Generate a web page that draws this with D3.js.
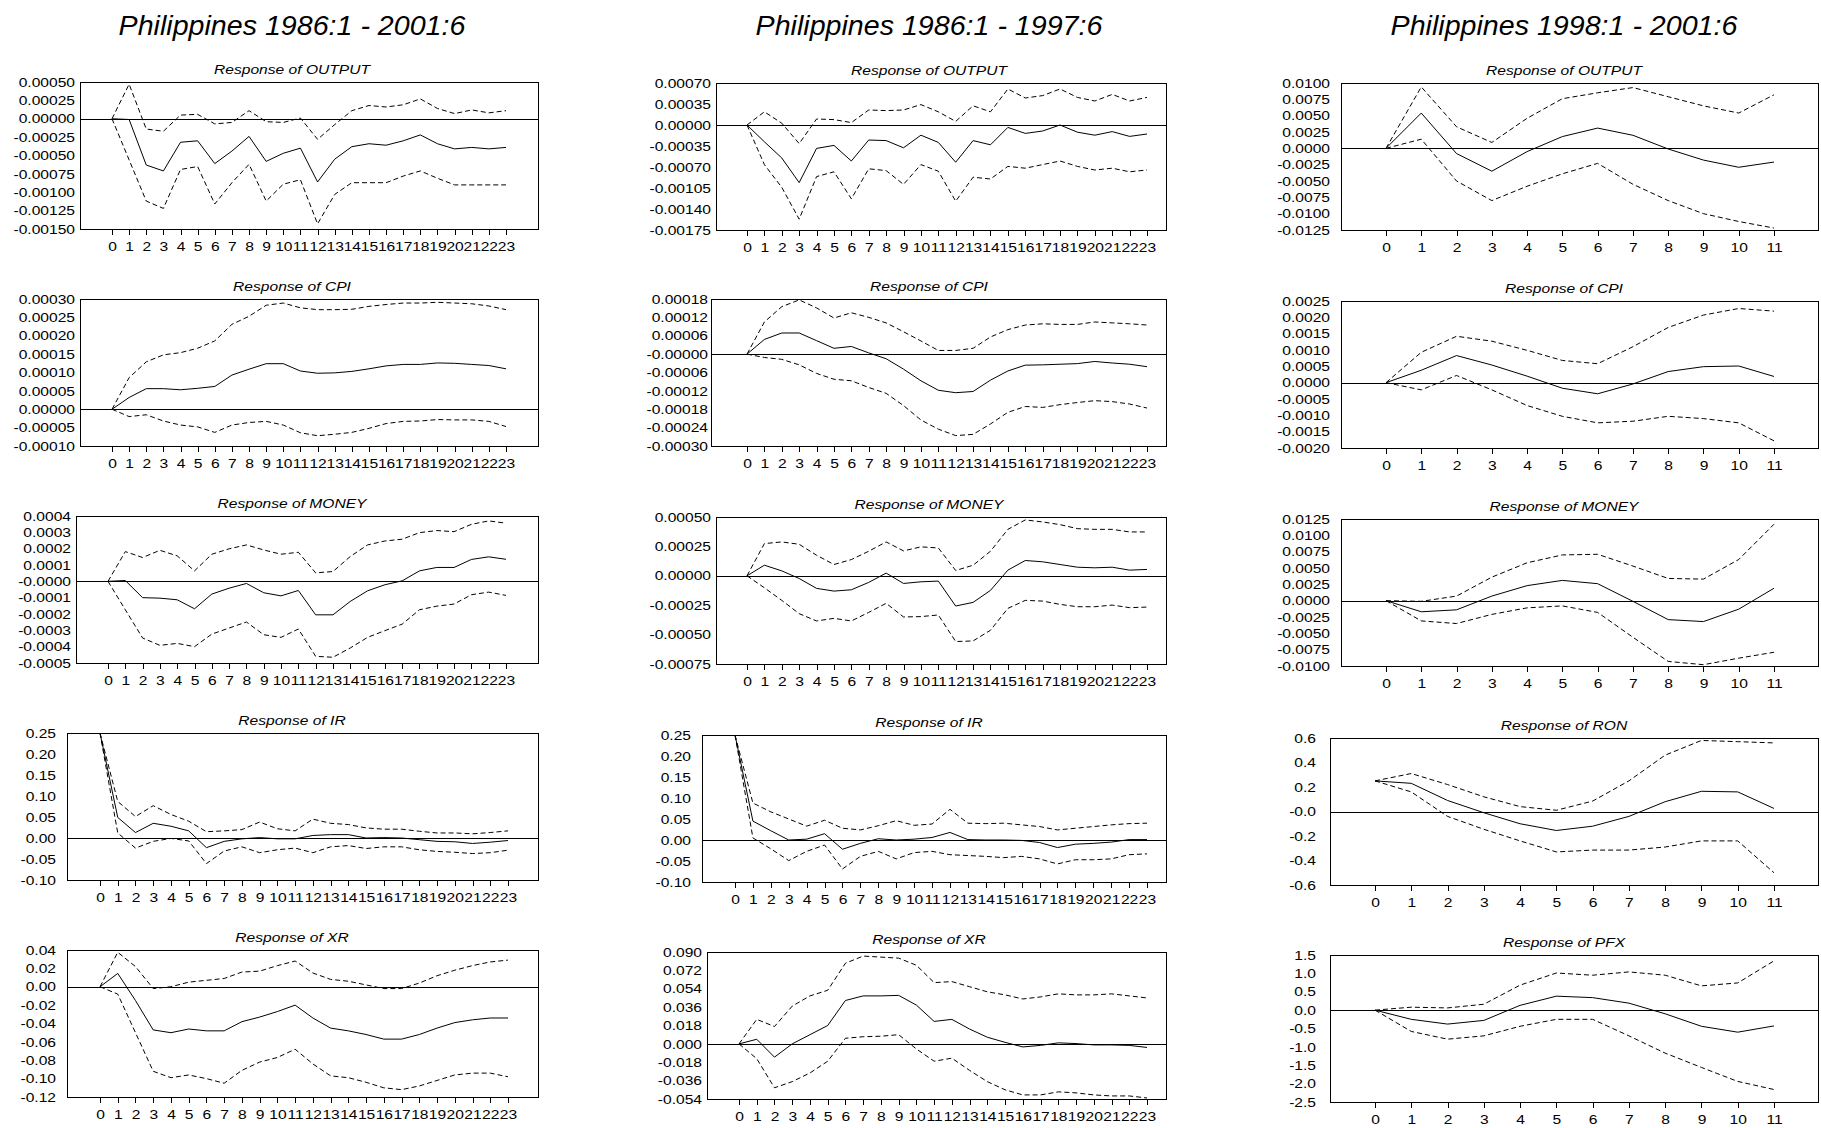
<!DOCTYPE html>
<html>
<head>
<meta charset="utf-8">
<script src="https://cdn.jsdelivr.net/npm/d3@7"></script>
<style>
body { margin: 0; background: #fff; }
text { font-family: "Liberation Sans", Arial, sans-serif; fill: #000; }
</style>
</head>
<body>
<svg id="chart" width="1821" height="1128"></svg>
<script>
// column titles and variable names
var columnTitles = ["Philippines 1986:1 - 2001:6", "Philippines 1986:1 - 1997:6", "Philippines 1998:1 - 2001:6"];
var varsFull = ["OUTPUT", "CPI", "MONEY", "IR", "XR"];
var varsPost = ["OUTPUT", "CPI", "MONEY", "RON", "PFX"];

// ---- 1986:1 - 2001:6 (periods 0..23)
var full_output_irf = [0, -0.00001, -0.00063, -0.00071, -0.00032, -0.00030, -0.00061, -0.00044, -0.00024, -0.00058, -0.00047, -0.00040, -0.00086, -0.00055, -0.00038, -0.00034, -0.00036, -0.00030, -0.00022, -0.00034, -0.00041, -0.00039, -0.00041, -0.00039];
var full_output_hi = [0, 0.00047, -0.00014, -0.00017, 0.00005, 0.00006, -0.00007, -0.00005, 0.00011, -0.00004, -0.00005, 0.00001, -0.00028, -0.00008, 0.00011, 0.00018, 0.00016, 0.00019, 0.00027, 0.00014, 0.00007, 0.00012, 0.00008, 0.00011];
var full_output_lo = [0, -0.00056, -0.00112, -0.00122, -0.00069, -0.00065, -0.00116, -0.00087, -0.00062, -0.00112, -0.00089, -0.00083, -0.00143, -0.00103, -0.00087, -0.00087, -0.00087, -0.00078, -0.00071, -0.00081, -0.00090, -0.00090, -0.00090, -0.00090];

var full_cpi_irf = [0, 0.000032, 0.000056, 0.000056, 0.000053, 0.000057, 0.000062, 0.000093, 0.000109, 0.000124, 0.000124, 0.000104, 0.000098, 0.000099, 0.000103, 0.000110, 0.000118, 0.000122, 0.000122, 0.000126, 0.000125, 0.000122, 0.000119, 0.000110];
var full_cpi_hi = [0, 0.000086, 0.000129, 0.000148, 0.000154, 0.000166, 0.000186, 0.000231, 0.000253, 0.000283, 0.000289, 0.000276, 0.000271, 0.000271, 0.000272, 0.000280, 0.000285, 0.000289, 0.000289, 0.000291, 0.000289, 0.000287, 0.000281, 0.000271];
var full_cpi_lo = [0, -0.000020, -0.000015, -0.000032, -0.000043, -0.000048, -0.000063, -0.000043, -0.000036, -0.000033, -0.000043, -0.000064, -0.000072, -0.000068, -0.000063, -0.000052, -0.000039, -0.000033, -0.000032, -0.000028, -0.000029, -0.000029, -0.000033, -0.000047];

var full_money_irf = [0, 0.000005, -0.000100, -0.000103, -0.000113, -0.000168, -0.000078, -0.000042, -0.000013, -0.000070, -0.000089, -0.000056, -0.000205, -0.000205, -0.000123, -0.000058, -0.000021, 0.000003, 0.000064, 0.000085, 0.000085, 0.000134, 0.000150, 0.000135];
var full_money_hi = [0, 0.000182, 0.000146, 0.000190, 0.000156, 0.000064, 0.000166, 0.000199, 0.000223, 0.000192, 0.000166, 0.000178, 0.000052, 0.000060, 0.000152, 0.000223, 0.000247, 0.000258, 0.000298, 0.000311, 0.000304, 0.000349, 0.000370, 0.000356];
var full_money_lo = [0, -0.000174, -0.000347, -0.000392, -0.000380, -0.000400, -0.000323, -0.000286, -0.000249, -0.000327, -0.000343, -0.000292, -0.000459, -0.000465, -0.000408, -0.000343, -0.000302, -0.000262, -0.000174, -0.000152, -0.000139, -0.000082, -0.000066, -0.000086];

var full_ir_irf = [0.25, 0.049, 0.013, 0.035, 0.028, 0.017, -0.023, -0.008, -0.002, 0.001, -0.002, -0.002, 0.006, 0.008, 0.008, 0.000, 0.001, 0.000, -0.004, -0.008, -0.009, -0.013, -0.010, -0.006];
var full_ir_hi = [0.25, 0.087, 0.051, 0.077, 0.056, 0.040, 0.015, 0.017, 0.020, 0.038, 0.022, 0.017, 0.045, 0.035, 0.032, 0.024, 0.021, 0.021, 0.016, 0.012, 0.012, 0.010, 0.013, 0.017];
var full_ir_lo = [0.25, 0.012, -0.024, -0.008, -0.001, -0.007, -0.061, -0.031, -0.021, -0.035, -0.028, -0.024, -0.035, -0.021, -0.018, -0.025, -0.021, -0.021, -0.028, -0.032, -0.034, -0.037, -0.035, -0.029];

var full_xr_irf = [0, 0.0145, -0.015, -0.047, -0.050, -0.046, -0.048, -0.048, -0.038, -0.033, -0.027, -0.020, -0.034, -0.045, -0.048, -0.052, -0.057, -0.057, -0.052, -0.045, -0.039, -0.036, -0.034, -0.034];
var full_xr_hi = [0, 0.0375, 0.022, -0.002, 0.000, 0.005, 0.007, 0.009, 0.016, 0.017, 0.023, 0.028, 0.015, 0.008, 0.006, 0.002, -0.002, -0.002, 0.004, 0.012, 0.018, 0.023, 0.027, 0.029];
var full_xr_lo = [0, -0.008, -0.050, -0.092, -0.099, -0.096, -0.100, -0.105, -0.091, -0.082, -0.077, -0.068, -0.084, -0.097, -0.099, -0.104, -0.110, -0.112, -0.108, -0.102, -0.096, -0.094, -0.094, -0.098];

// ---- 1986:1 - 1997:6 (periods 0..23)
var pre_output_irf = [0, -0.00028, -0.00055, -0.00096, -0.00039, -0.00034, -0.00060, -0.00025, -0.00026, -0.00038, -0.00017, -0.00029, -0.00062, -0.00026, -0.00033, -0.00004, -0.00014, -0.00010, 0.00000, -0.00012, -0.00017, -0.00011, -0.00019, -0.00015];
var pre_output_hi = [0, 0.00022, 0.00003, -0.00031, 0.00010, 0.00009, 0.00004, 0.00025, 0.00024, 0.00025, 0.00034, 0.00022, 0.00006, 0.00032, 0.00022, 0.00060, 0.00045, 0.00049, 0.00060, 0.00046, 0.00040, 0.00051, 0.00040, 0.00046];
var pre_output_lo = [0, -0.00066, -0.00104, -0.00157, -0.00086, -0.00078, -0.00123, -0.00073, -0.00076, -0.00099, -0.00066, -0.00077, -0.00127, -0.00087, -0.00090, -0.00069, -0.00072, -0.00066, -0.00060, -0.00069, -0.00075, -0.00072, -0.00078, -0.00075];

var pre_cpi_irf = [0, 0.000048, 0.000069, 0.000069, 0.000044, 0.000019, 0.000025, 0.000004, -0.000015, -0.000049, -0.000087, -0.000118, -0.000126, -0.000122, -0.000085, -0.000055, -0.000036, -0.000035, -0.000033, -0.000031, -0.000024, -0.000029, -0.000033, -0.000041];
var pre_cpi_hi = [0, 0.000105, 0.000155, 0.000177, 0.000151, 0.000118, 0.000135, 0.000120, 0.000102, 0.000073, 0.000043, 0.000012, 0.000012, 0.000019, 0.000056, 0.000080, 0.000095, 0.000099, 0.000097, 0.000097, 0.000105, 0.000102, 0.000099, 0.000095];
var pre_cpi_lo = [0, -0.000011, -0.000017, -0.000035, -0.000063, -0.000082, -0.000087, -0.000109, -0.000128, -0.000168, -0.000215, -0.000245, -0.000266, -0.000262, -0.000228, -0.000190, -0.000171, -0.000174, -0.000165, -0.000158, -0.000152, -0.000155, -0.000163, -0.000176];

var pre_money_irf = [0, 0.000090, 0.000042, -0.000023, -0.000107, -0.000130, -0.000119, -0.000056, 0.000023, -0.000065, -0.000051, -0.000045, -0.000257, -0.000226, -0.000124, 0.000048, 0.000130, 0.000119, 0.000096, 0.000073, 0.000068, 0.000073, 0.000048, 0.000054];
var pre_money_hi = [0, 0.000274, 0.000288, 0.000268, 0.000175, 0.000096, 0.000138, 0.000209, 0.000288, 0.000212, 0.000246, 0.000237, 0.000045, 0.000090, 0.000209, 0.000395, 0.000475, 0.000458, 0.000435, 0.000401, 0.000395, 0.000395, 0.000373, 0.000373];
var pre_money_lo = [0, -0.000102, -0.000209, -0.000322, -0.000384, -0.000362, -0.000384, -0.000311, -0.000234, -0.000350, -0.000347, -0.000333, -0.000559, -0.000554, -0.000463, -0.000277, -0.000209, -0.000215, -0.000243, -0.000263, -0.000263, -0.000249, -0.000271, -0.000266];

var pre_ir_irf = [0.25, 0.045, 0.022, 0.000, 0.002, 0.015, -0.022, -0.008, 0.003, 0.000, 0.002, 0.006, 0.018, 0.001, 0.000, 0.000, -0.001, -0.006, -0.018, -0.010, -0.008, -0.005, 0.001, 0.001];
var pre_ir_hi = [0.25, 0.088, 0.067, 0.050, 0.033, 0.047, 0.028, 0.024, 0.034, 0.046, 0.035, 0.038, 0.073, 0.040, 0.039, 0.040, 0.036, 0.032, 0.024, 0.028, 0.032, 0.036, 0.039, 0.040];
var pre_ir_lo = [0.25, 0.005, -0.021, -0.049, -0.027, -0.012, -0.069, -0.039, -0.027, -0.045, -0.030, -0.027, -0.035, -0.037, -0.039, -0.042, -0.039, -0.045, -0.057, -0.047, -0.047, -0.045, -0.035, -0.033];

var pre_xr_irf = [0, 0.0045, -0.013, 0.000, 0.009, 0.018, 0.0425, 0.047, 0.047, 0.0475, 0.038, 0.022, 0.024, 0.0145, 0.0065, 0.0015, -0.003, -0.0015, 0.001, 0.0003, -0.001, -0.001, -0.0015, -0.0035];
var pre_xr_hi = [0, 0.024, 0.017, 0.037, 0.047, 0.0525, 0.079, 0.086, 0.085, 0.084, 0.077, 0.060, 0.061, 0.056, 0.051, 0.048, 0.044, 0.046, 0.049, 0.048, 0.048, 0.049, 0.047, 0.045];
var pre_xr_lo = [0, -0.0145, -0.043, -0.037, -0.0285, -0.017, 0.0055, 0.007, 0.0075, 0.009, -0.005, -0.017, -0.014, -0.026, -0.037, -0.045, -0.050, -0.050, -0.047, -0.048, -0.050, -0.051, -0.051, -0.053];

// ---- 1998:1 - 2001:6 (periods 0..11)
var post_output_irf = [0, 0.0054, -0.0008, -0.0035, -0.0005, 0.0018, 0.0031, 0.0020, -0.0001, -0.0018, -0.0029, -0.0021];
var post_output_hi = [0, 0.0094, 0.0033, 0.0009, 0.0046, 0.0076, 0.0085, 0.0093, 0.0079, 0.0065, 0.0054, 0.0082];
var post_output_lo = [0, 0.0014, -0.0050, -0.0080, -0.0058, -0.0039, -0.0023, -0.0055, -0.0080, -0.0100, -0.0112, -0.0122];

var post_cpi_irf = [0, 0.00038, 0.00083, 0.00054, 0.00020, -0.00017, -0.00034, -0.00004, 0.00034, 0.00049, 0.00051, 0.00019];
var post_cpi_hi = [0, 0.00093, 0.00142, 0.00127, 0.00099, 0.00068, 0.00058, 0.00110, 0.00169, 0.00207, 0.00227, 0.00219];
var post_cpi_lo = [0, -0.00022, 0.00022, -0.00022, -0.00070, -0.00103, -0.00123, -0.00118, -0.00103, -0.00110, -0.00123, -0.00178];

var post_money_irf = [0, -0.0017, -0.0014, 0.0007, 0.0023, 0.0031, 0.0026, -0.0001, -0.0029, -0.0032, -0.0013, 0.0019];
var post_money_hi = [0, -0.0001, 0.0007, 0.0036, 0.0058, 0.0070, 0.0071, 0.0053, 0.0034, 0.0033, 0.0063, 0.0117];
var post_money_lo = [0, -0.0031, -0.0035, -0.0021, -0.0011, -0.0008, -0.0018, -0.0056, -0.0093, -0.0098, -0.0088, -0.0079];

var post_ron_irf = [0.25, 0.23, 0.09, -0.01, -0.10, -0.155, -0.12, -0.04, 0.08, 0.165, 0.16, 0.025];
var post_ron_hi = [0.25, 0.31, 0.22, 0.12, 0.04, 0.01, 0.085, 0.25, 0.46, 0.58, 0.57, 0.56];
var post_ron_lo = [0.25, 0.16, -0.04, -0.145, -0.24, -0.33, -0.315, -0.315, -0.29, -0.24, -0.24, -0.50];

var post_pfx_irf = [0, -0.25, -0.38, -0.28, 0.13, 0.38, 0.34, 0.19, -0.10, -0.44, -0.60, -0.43];
var post_pfx_hi = [0, 0.08, 0.06, 0.16, 0.68, 1.01, 0.95, 1.04, 0.95, 0.66, 0.74, 1.34];
var post_pfx_lo = [0, -0.58, -0.79, -0.70, -0.44, -0.25, -0.25, -0.70, -1.17, -1.56, -1.94, -2.16];

// y tick labels, top to bottom
var full_ticks = [
  ["0.00050", "0.00025", "0.00000", "-0.00025", "-0.00050", "-0.00075", "-0.00100", "-0.00125", "-0.00150"],
  ["0.00030", "0.00025", "0.00020", "0.00015", "0.00010", "0.00005", "0.00000", "-0.00005", "-0.00010"],
  ["0.0004", "0.0003", "0.0002", "0.0001", "-0.0000", "-0.0001", "-0.0002", "-0.0003", "-0.0004", "-0.0005"],
  ["0.25", "0.20", "0.15", "0.10", "0.05", "0.00", "-0.05", "-0.10"],
  ["0.04", "0.02", "0.00", "-0.02", "-0.04", "-0.06", "-0.08", "-0.10", "-0.12"]
];
var pre_ticks = [
  ["0.00070", "0.00035", "0.00000", "-0.00035", "-0.00070", "-0.00105", "-0.00140", "-0.00175"],
  ["0.00018", "0.00012", "0.00006", "-0.00000", "-0.00006", "-0.00012", "-0.00018", "-0.00024", "-0.00030"],
  ["0.00050", "0.00025", "0.00000", "-0.00025", "-0.00050", "-0.00075"],
  ["0.25", "0.20", "0.15", "0.10", "0.05", "0.00", "-0.05", "-0.10"],
  ["0.090", "0.072", "0.054", "0.036", "0.018", "0.000", "-0.018", "-0.036", "-0.054"]
];
var post_ticks = [
  ["0.0100", "0.0075", "0.0050", "0.0025", "0.0000", "-0.0025", "-0.0050", "-0.0075", "-0.0100", "-0.0125"],
  ["0.0025", "0.0020", "0.0015", "0.0010", "0.0005", "0.0000", "-0.0005", "-0.0010", "-0.0015", "-0.0020"],
  ["0.0125", "0.0100", "0.0075", "0.0050", "0.0025", "0.0000", "-0.0025", "-0.0050", "-0.0075", "-0.0100"],
  ["0.6", "0.4", "0.2", "-0.0", "-0.2", "-0.4", "-0.6"],
  ["1.5", "1.0", "0.5", "0.0", "-0.5", "-1.0", "-1.5", "-2.0", "-2.5"]
];

// page layout (pixels)
var plotH = 147;
var textStretch = 1.2;
var columns = [
  { titleX: 292, right: 538, tops: [82, 299, 516, 733, 950],
    left: [80, 80, 76, 67, 67], lab: [75, 75, 71, 56, 56],
    x0: [112, 112, 108, 100, 100], xN: [506, 506, 506, 508, 508] },
  { titleX: 929, right: 1166, tops: [83, 299, 517, 735, 952],
    left: [716, 711, 716, 702, 707], lab: [711, 708, 711, 691, 702],
    x0: [747, 747, 747, 735, 739], xN: [1147, 1147, 1147, 1147, 1147] },
  { titleX: 1564, right: 1818, tops: [83, 301, 519, 738, 955],
    left: [1341, 1341, 1341, 1330, 1330], lab: [1330, 1330, 1330, 1316, 1316],
    x0: [1386, 1386, 1386, 1375, 1375], xN: [1774, 1774, 1774, 1774, 1774] }
];

// build the panel table from the named arrays
var series = [
  [[full_output_irf, full_output_hi, full_output_lo], [full_cpi_irf, full_cpi_hi, full_cpi_lo],
   [full_money_irf, full_money_hi, full_money_lo], [full_ir_irf, full_ir_hi, full_ir_lo],
   [full_xr_irf, full_xr_hi, full_xr_lo]],
  [[pre_output_irf, pre_output_hi, pre_output_lo], [pre_cpi_irf, pre_cpi_hi, pre_cpi_lo],
   [pre_money_irf, pre_money_hi, pre_money_lo], [pre_ir_irf, pre_ir_hi, pre_ir_lo],
   [pre_xr_irf, pre_xr_hi, pre_xr_lo]],
  [[post_output_irf, post_output_hi, post_output_lo], [post_cpi_irf, post_cpi_hi, post_cpi_lo],
   [post_money_irf, post_money_hi, post_money_lo], [post_ron_irf, post_ron_hi, post_ron_lo],
   [post_pfx_irf, post_pfx_hi, post_pfx_lo]]
];
var ticks = [full_ticks, pre_ticks, post_ticks];
var names = [varsFull, varsFull, varsPost];

var svg = d3.select("#chart");

svg.append("rect").attr("width", 1821).attr("height", 1128).attr("fill", "#fff");

// column headings
svg.selectAll(".coltitle")
    .data(columnTitles)
    .enter().append("text")
    .attr("class", "coltitle")
    .attr("transform", function(d, i) { return "translate(" + columns[i].titleX + ",35) scale(1.06,1)"; })
    .attr("text-anchor", "middle")
    .attr("font-size", "27px")
    .attr("font-style", "italic")
    .text(function(d) { return d; });

for (var c = 0; c < 3; c++) {
  for (var r = 0; r < 5; r++) {
    drawPanel(c, r);
  }
}

function drawPanel(c, r) {
  var col = columns[c];
  var top = col.tops[r], left = col.left[r], right = col.right;
  var lab = ticks[c][r];
  var vals = lab.map(Number);
  var s = series[c][r];
  var n = s[0].length - 1;

  var x = d3.scaleLinear().domain([0, n]).range([col.x0[r], col.xN[r]]);
  var y = d3.scaleLinear().domain(d3.extent(vals)).range([top + plotH, top]);

  var g = svg.append("g");

  // panel title
  g.append("text")
      .attr("transform", "translate(" + col.titleX + "," + (top - 8) + ") scale(" + textStretch + ",1)")
      .attr("text-anchor", "middle")
      .attr("font-size", "13px")
      .attr("font-style", "italic")
      .text("Response of " + names[c][r]);

  // y axis labels
  var yAxis = d3.axisLeft(y)
      .tickValues(vals)
      .tickSize(0)
      .tickFormat(function(d, i) { return lab[i]; });
  var ya = g.append("g")
      .attr("transform", "translate(" + left + ",0)")
      .call(yAxis)
      .attr("font-size", null)
      .attr("font-family", null);
  ya.select(".domain").remove();
  ya.selectAll("text")
      .attr("x", -(left - col.lab[r]) / textStretch)
      .attr("transform", "scale(" + textStretch + ",1)")
      .attr("font-size", "13px");

  // x axis with outward ticks
  var xAxis = d3.axisBottom(x)
      .tickValues(d3.range(n + 1))
      .tickSize(6)
      .tickPadding(7)
      .tickFormat(d3.format("d"));
  var xa = g.append("g")
      .attr("transform", "translate(0," + (top + plotH) + ")")
      .call(xAxis)
      .attr("font-size", null)
      .attr("font-family", null);
  xa.select(".domain").remove();
  xa.selectAll("line").attr("stroke", "#000").attr("shape-rendering", "crispEdges");
  xa.selectAll("text")
      .attr("transform", "scale(" + textStretch + ",1)")
      .attr("font-size", "13px");

  // frame and zero line
  g.append("rect")
      .attr("x", left + 0.5).attr("y", top + 0.5)
      .attr("width", right - left).attr("height", plotH)
      .attr("fill", "none").attr("stroke", "#000")
      .attr("shape-rendering", "crispEdges");
  g.append("line")
      .attr("x1", left).attr("x2", right)
      .attr("y1", Math.round(y(0)) + 0.5).attr("y2", Math.round(y(0)) + 0.5)
      .attr("stroke", "#000")
      .attr("shape-rendering", "crispEdges");

  var line = d3.line()
      .x(function(d, i) { return x(i); })
      .y(function(d) { return y(d); });

  // +/- 2 s.e. bands, then the response
  [s[1], s[2]].forEach(function(band) {
    g.append("path")
        .attr("d", line(band))
        .attr("fill", "none")
        .attr("stroke", "#000")
        .attr("stroke-width", 1)
        .attr("stroke-dasharray", "5,3");
  });
  g.append("path")
      .attr("d", line(s[0]))
      .attr("fill", "none")
      .attr("stroke", "#000")
      .attr("stroke-width", 1);
}
</script>
</body>
</html>
